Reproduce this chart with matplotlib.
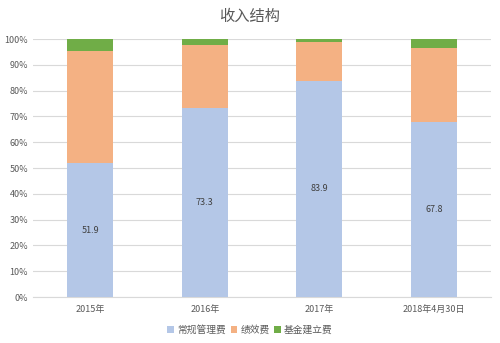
import matplotlib
matplotlib.use("Agg")
import matplotlib.pyplot as plt
from matplotlib.ticker import PercentFormatter

plt.rcParams['font.family'] = ['Noto Sans CJK SC', 'DejaVu Sans']

categories = ["2015年", "2016年", "2017年", "2018年4月30日"]
regular_fee = [51.9, 73.3, 83.9, 67.8]
performance_fee = [43.6, 24.3, 14.8, 28.6]
setup_fee = [4.5, 2.4, 1.3, 3.6]
series_names = ["常规管理费", "绩效费", "基金建立费"]
colors = ["#b4c7e7", "#f4b183", "#70ad47"]

fig = plt.figure(figsize=(5.0, 3.43), dpi=100)
ax = fig.add_axes([0.066, 0.134, 0.916, 0.752])

x = list(range(len(categories)))
w = 0.4
b1 = ax.bar(x, regular_fee, w, color=colors[0], label=series_names[0], zorder=3)
bottom2 = regular_fee
b2 = ax.bar(x, performance_fee, w, bottom=bottom2, color=colors[1], label=series_names[1], zorder=3)
bottom3 = [a + b for a, b in zip(regular_fee, performance_fee)]
b3 = ax.bar(x, setup_fee, w, bottom=bottom3, color=colors[2], label=series_names[2], zorder=3)

for xi, v in zip(x, regular_fee):
    ax.text(xi, v / 2, f"{v}", ha="center", va="center", fontsize=6.5, color="#404040", zorder=4)

ax.set_ylim(0, 100)
ax.set_xlim(-0.5, len(categories) - 0.5)
ax.set_yticks(range(0, 101, 10))
ax.yaxis.set_major_formatter(PercentFormatter(decimals=0))
ax.grid(axis="y", color="#d9d9d9", linewidth=0.8, zorder=0)
for s in ["top", "right", "left"]:
    ax.spines[s].set_visible(False)
ax.spines["bottom"].set_color("#d9d9d9")
ax.tick_params(axis="both", length=0, labelsize=6.5, labelcolor="#595959")
ax.tick_params(axis="x", pad=6)
ax.set_xticks(x)
ax.set_xticklabels(categories)

fig.text(0.5, 0.953, "收入结构", ha="center", va="center", fontsize=11, color="#595959")
fig.legend(handles=[b1, b2, b3], loc="center", bbox_to_anchor=(0.5, 0.038), ncol=3,
           frameon=False, fontsize=7, labelcolor="#595959", handlelength=0.7,
           handleheight=0.7, handletextpad=0.3, columnspacing=0.5)

fig.savefig("out.png", dpi=100)
